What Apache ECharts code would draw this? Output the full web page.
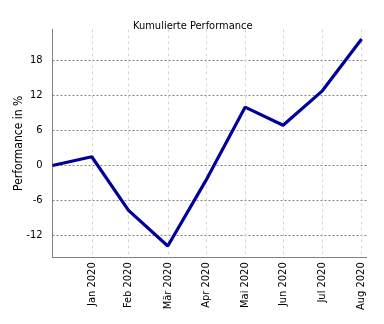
<!DOCTYPE html>
<html>
<head>
<meta charset="utf-8">
<script src="https://cdn.jsdelivr.net/npm/echarts@6/dist/echarts.min.js"></script>
<style>
html,body{margin:0;padding:0;background:#fff;}
#c{width:384px;height:324px;}
</style>
</head>
<body>
<div id="c"></div>
<script>
// Data
const dates = ['2019-12-31','2020-01-31','2020-02-29','2020-03-31','2020-04-30','2020-05-31','2020-06-30','2020-07-31','2020-08-31'];
const performance = [0, 1.5, -7.7, -13.8, -2.6, 10.0, 6.9, 12.8, 21.7];
const tickDates = ['2020-01-31','2020-02-29','2020-03-31','2020-04-30','2020-05-31','2020-06-30','2020-07-31','2020-08-31'];
const tickLabels = ['Jan 2020','Feb 2020','Mär 2020','Apr 2020','Mai 2020','Jun 2020','Jul 2020','Aug 2020'];
const yTicks = [-12, -6, 0, 6, 12, 18];

const FONT = "'Liberation Sans Narrow','DejaVu Sans Condensed','DejaVu Sans',sans-serif";
function ts(s){ const p = s.split('-').map(Number); return Date.UTC(p[0], p[1]-1, p[2]); }
const tickTs = tickDates.map(ts);

const chart = echarts.init(document.getElementById('c'), null, {renderer:'canvas'});
chart.setOption({
  animation:false,
  backgroundColor:'#fff',
  title:{
    text:'Kumulierte Performance', left:128, top:16,
    textStyle:{fontSize:11, fontWeight:'normal', color:'#000', fontFamily:FONT}
  },
  grid:{left:52.5, right:17.3, top:29.3, bottom:66.7, containLabel:false, outerBoundsMode:'none'},
  xAxis:{
    type:'value',
    min: ts('2019-12-31'),
    max: ts('2020-09-04'),
    axisLine:{show:true, onZero:false, lineStyle:{color:'#808080', width:1}},
    axisTick:{show:false, customValues: tickTs},
    axisLabel:{
      customValues: tickTs, rotate:90, margin:5,
      fontSize:11, color:'#000', fontFamily:FONT,
      formatter:function(v){ const i = tickTs.indexOf(v); return i>=0 ? tickLabels[i] : ''; }
    },
    splitLine:{show:true, lineStyle:{color:'#d8d8d8', type:[3,3], width:1}}
  },
  yAxis:{
    type:'value',
    min:-15.74, max:23.35,
    name:'Performance in %', nameLocation:'middle', nameGap:27.5, nameMoveOverlap:false,
    nameTextStyle:{fontSize:12, color:'#000', fontFamily:FONT},
    axisLine:{show:true, lineStyle:{color:'#808080', width:1}},
    axisTick:{show:false, customValues: yTicks},
    axisLabel:{customValues: yTicks, margin:10, fontSize:11, color:'#000', fontFamily:FONT},
    splitLine:{show:true, lineStyle:{color:'#808080', type:[2,2], width:1}}
  },
  series:[{
    type:'line',
    data: dates.map((d,i)=>[ts(d), performance[i]]),
    showSymbol:false,
    lineStyle:{color:'#000099', width:3.2},
    itemStyle:{color:'#000099'}
  }]
});
</script>
</body>
</html>
